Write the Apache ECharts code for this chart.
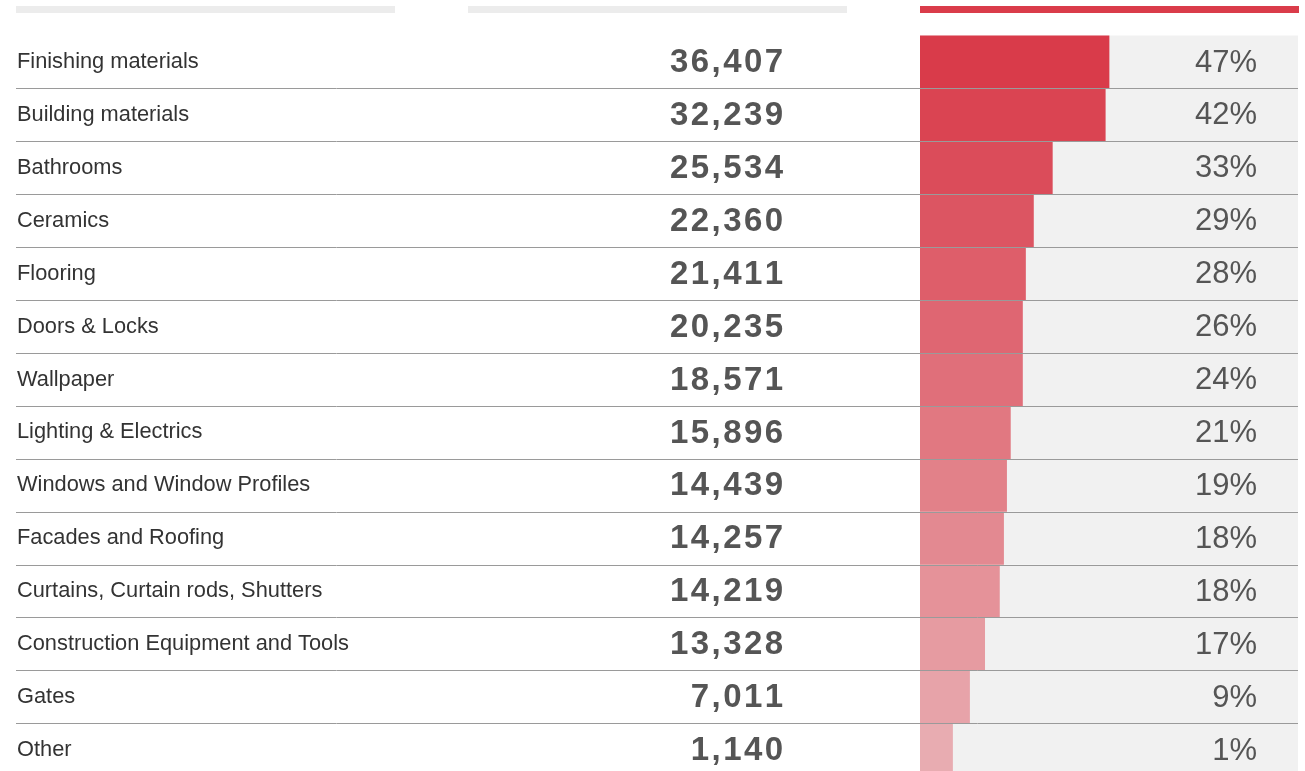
<!DOCTYPE html>
<html>
<head>
<meta charset="utf-8">
<script src="https://cdn.jsdelivr.net/npm/echarts@6/dist/echarts.min.js"></script>
<style>
  html, body { margin: 0; padding: 0; background: #fff; }
  #main { width: 1305px; height: 771px; }
</style>
</head>
<body>
<div id="main"></div>
<script>
// 分类名称
let categories = [
    'Finishing materials',
    'Building materials',
    'Bathrooms',
    'Ceramics',
    'Flooring',
    'Doors & Locks',
    'Wallpaper',
    'Lighting & Electrics',
    'Windows and Window Profiles',
    'Facades and Roofing',
    'Curtains, Curtain rods, Shutters',
    'Construction Equipment and Tools',
    'Gates',
    'Other'
];
// 中间一列的数值
let counts = [36407, 32239, 25534, 22360, 21411, 20235, 18571, 15896, 14439, 14257, 14219, 13328, 7011, 1140];
// 右侧百分比文字
let percents = [47, 42, 33, 29, 28, 26, 24, 21, 19, 18, 18, 17, 9, 1];
// 条形长度（占整条灰色轨道的百分比，按图读取）
let barLengths = [50.1, 49.1, 35.1, 30.1, 28.0, 27.2, 27.2, 24.0, 23.0, 22.2, 21.1, 17.2, 13.2, 8.7];
let trackValues = categories.map(function () { return 100; });

// layout
let gridLeft = 16, trackLeft = 920, trackRight = 1298;
let pxPerUnit = (trackRight - trackLeft) / 100;
let xMin = -(trackLeft - gridLeft) / pxPerUnit;
let numRight = 783;      // 数字列右边缘
let pctRight = 1257;     // 百分比右边缘
let numFont = 'bold 33px "Liberation Sans"';
let numSpacing = 2.4;

let measureCtx = document.createElement('canvas').getContext('2d');
measureCtx.font = numFont;

// 条形颜色：从深红到浅粉
function barColor(i) {
    let c0 = [217, 59, 74], c1 = [232, 172, 177];
    let t = i / (categories.length - 1);
    let c = c0.map(function (v, k) { return Math.round(v + (c1[k] - v) * t); });
    return 'rgb(' + c.join(',') + ')';
}

let myChart = echarts.init(document.getElementById('main'));
let option = {
    animation: false,
    backgroundColor: '#ffffff',
    grid: {
        left: gridLeft,
        width: trackRight - gridLeft,
        top: 35.5,
        height: 741,
        outerBoundsMode: 'none',
        containLabel: false
    },
    // 顶部三条装饰线
    graphic: [
        { type: 'rect', shape: { x: 16, y: 6, width: 379, height: 7 }, style: { fill: '#ececec' } },
        { type: 'rect', shape: { x: 468, y: 6, width: 379, height: 7 }, style: { fill: '#ececec' } },
        { type: 'rect', shape: { x: 920, y: 6, width: 379, height: 7 }, style: { fill: '#da3c4a' } }
    ],
    xAxis: {
        type: 'value',
        min: xMin,
        max: 100,
        show: false
    },
    yAxis: {
        type: 'category',
        inverse: true,
        data: categories,
        z: 10,
        axisLine: { show: false },
        axisTick: { show: false },
        splitLine: {
            show: true,
            interval: 0,
            showMinLine: false,
            lineStyle: { color: '#9a9a9a', width: 1 }
        },
        axisLabel: {
            interval: 0,
            align: 'left',
            margin: -1,
            padding: [0, 0, 9, 0],
            color: '#333333',
            fontSize: 21.8,
            fontFamily: 'Liberation Sans'
        }
    },
    series: [
        {
            name: 'track',
            type: 'bar',
            data: trackValues,
            barWidth: '100%',
            itemStyle: { color: '#f1f1f1' },
            silent: true
        },
        {
            name: 'share',
            type: 'bar',
            data: barLengths,
            barWidth: '100%',
            barGap: '-100%',
            itemStyle: {
                color: function (p) { return barColor(p.dataIndex); }
            }
        },
        {
            // 数字列，逐字符排版模拟字间距
            name: 'counts',
            type: 'custom',
            z: 12,
            data: counts.map(function (v, i) { return [0, i]; }),
            renderItem: function (params, api) {
                let idx = api.value(1);
                let y = api.coord([0, idx])[1];
                let str = counts[idx].toLocaleString('en-US');
                let children = [];
                let x = numRight;
                for (let i = str.length - 1; i >= 0; i--) {
                    let w = measureCtx.measureText(str[i]).width;
                    x -= w;
                    children.push({
                        type: 'text',
                        style: {
                            text: str[i],
                            x: x,
                            y: y + 1,
                            fill: '#555555',
                            fontSize: 33,
                            fontWeight: 'bold',
                            fontFamily: 'Liberation Sans',
                            align: 'left',
                            verticalAlign: 'middle'
                        }
                    });
                    x -= numSpacing;
                }
                return { type: 'group', children: children };
            }
        },
        {
            name: 'percents',
            type: 'custom',
            z: 12,
            data: percents.map(function (v, i) { return [0, i]; }),
            renderItem: function (params, api) {
                let idx = api.value(1);
                let y = api.coord([0, idx])[1];
                return {
                    type: 'text',
                    style: {
                        text: percents[idx] + '%',
                        x: pctRight,
                        y: y + 1,
                        fill: '#555555',
                        fontSize: 31,
                        fontFamily: 'Liberation Sans',
                        align: 'right',
                        verticalAlign: 'middle'
                    }
                };
            }
        }
    ]
};
myChart.setOption(option);
</script>
</body>
</html>
